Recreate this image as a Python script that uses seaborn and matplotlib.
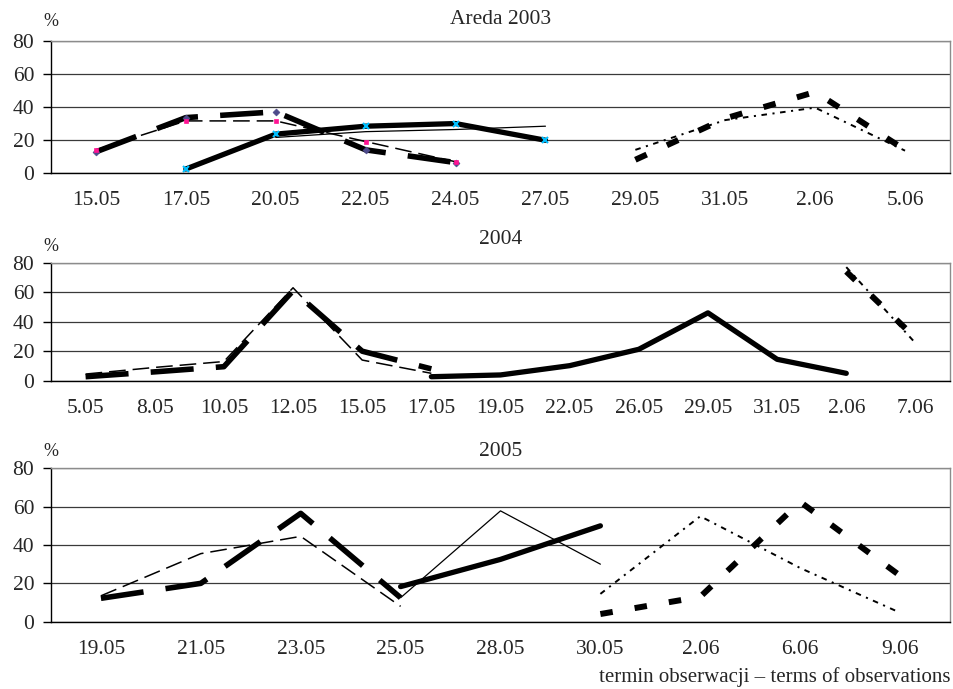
import numpy as np
import pandas as pd
import seaborn as sns
import matplotlib.pyplot as plt

nan = np.nan

# 2003 (Areda)
daty_2003 = ["15.05", "17.05", "20.05", "22.05", "24.05", "27.05", "29.05", "31.05", "2.06", "5.06"]
a_2003 = [12.8, 33.5, 37, 14, 6.3, nan, nan, nan, nan, nan]
b_2003 = [14, 31.5, 31.5, 19, 6.8, nan, nan, nan, nan, nan]
c_2003 = [nan, 2.4, 23.5, 28.3, 29.9, 19.8, nan, nan, nan, nan]
d_2003 = [nan, nan, 21.5, 25, 26.3, 28.3, nan, nan, nan, nan]
e_2003 = [nan, nan, nan, nan, nan, nan, 8, 33, 49, 14]
f_2003 = [nan, nan, nan, nan, nan, nan, 14, 32, 39.5, 13.5]

# 2004
daty_2004 = ["5.05", "8.05", "10.05", "12.05", "15.05", "17.05", "19.05", "22.05",
             "26.05", "29.05", "31.05", "2.06", "7.06"]
a_2004 = [2.7, 6, 9.5, 61, 20, 8, nan, nan, nan, nan, nan, nan, nan]
b_2004 = [4.5, 9, 13, 63, 14, 5, nan, nan, nan, nan, nan, nan, nan]
c_2004 = [nan, nan, nan, nan, nan, 2.7, 3.9, 10.2, 21.3, 46, 14.5, 5, nan]
d_2004 = [nan] * 13
e_2004 = [nan, nan, nan, nan, nan, nan, nan, nan, nan, nan, nan, 74, 29]
f_2004 = [nan, nan, nan, nan, nan, nan, nan, nan, nan, nan, nan, 77, 25.5]

# 2005
daty_2005 = ["19.05", "21.05", "23.05", "25.05", "28.05", "30.05", "2.06", "6.06", "9.06"]
a_2005 = [12.2, 20, 56.5, 12.5, nan, nan, nan, nan, nan]
b_2005 = [13.5, 35.5, 44.5, 8, nan, nan, nan, nan, nan]
c_2005 = [nan, nan, nan, 18.3, 32.5, 50, nan, nan, nan]
d_2005 = [nan, nan, nan, 12.5, 57.8, 30, nan, nan, nan]
e_2005 = [nan, nan, nan, nan, nan, 4, 13, 62.5, 24]
f_2005 = [nan, nan, nan, nan, nan, 14.5, 55, 28, 4.7]

tytuly = ["Areda 2003", "2004", "2005"]

sns.set_theme(style="white")
plt.rcParams["font.family"] = ["Liberation Serif", "DejaVu Serif"]
plt.rcParams["lines.scale_dashes"] = False
plt.rcParams["lines.solid_joinstyle"] = "round"

# style linii (jak w Excelu)
style = {
    "A": dict(linewidth=4.0, linestyle=(0, (31, 16))),
    "B": dict(linewidth=1.1, linestyle=(0, (12, 5))),
    "C": dict(linewidth=3.8, linestyle="-"),
    "D": dict(linewidth=0.9, linestyle="-"),
    "E": dict(linewidth=4.3, linestyle=(0, (9, 16))),
    "F": dict(linewidth=1.4, linestyle=(0, (4, 4, 1.5, 4))),
}
markery = {
    "A": dict(marker="D", markersize=3.5, markerfacecolor="#4d4a8a", markeredgecolor="#4d4a8a", markeredgewidth=0.5),
    "B": dict(marker="s", markersize=3.5, markerfacecolor="#ff1493", markeredgecolor="#ff1493", markeredgewidth=0.5),
    "C": dict(marker="x", markersize=4, markerfacecolor="#00bfff", markeredgecolor="#00bfff", markeredgewidth=1.5),
}

panele = [
    (daty_2003, {"A": a_2003, "B": b_2003, "C": c_2003, "D": d_2003, "E": e_2003, "F": f_2003}, True),
    (daty_2004, {"A": a_2004, "B": b_2004, "C": c_2004, "D": d_2004, "E": e_2004, "F": f_2004}, False),
    (daty_2005, {"A": a_2005, "B": b_2005, "C": c_2005, "D": d_2005, "E": e_2005, "F": f_2005}, False),
]

fig = plt.figure(figsize=(9.54, 6.89), dpi=100)
pozycje = [
    [51 / 954, 1 - 173 / 689, 899 / 954, 132.3 / 689],
    [51 / 954, 1 - 380.7 / 689, 899 / 954, 118 / 689],
    [51 / 954, 1 - 621.7 / 689, 899 / 954, 153.4 / 689],
]
tytul_off = [15, 17, 12]
proc_off = [14, 12, 12]

for i, (daty, serie, z_markerami) in enumerate(panele):
    ax = fig.add_axes(pozycje[i])
    n = len(daty)
    for nazwa, wart in serie.items():
        df = pd.DataFrame({"poz": np.arange(n), "proc": wart}).dropna()
        if df.empty:
            continue
        kw = dict(style[nazwa])
        if z_markerami and nazwa in markery:
            kw.update(markery[nazwa])
        sns.lineplot(data=df, x="poz", y="proc", ax=ax, color="black",
                     errorbar=None, sort=True, **kw)
    ax.set_xlim(-0.5, n - 0.5)
    ax.set_ylim(0, 80)
    ax.set_yticks([0, 20, 40, 60, 80])
    ax.set_xticks(np.arange(n))
    ax.set_xticklabels(daty)
    ax.set_xticks(np.arange(-0.5, n), minor=True)
    ax.tick_params(axis="x", which="major", length=0, pad=13, labelsize=15.5)
    ax.tick_params(axis="x", which="minor", length=6, width=1, direction="out", color="black")
    ax.tick_params(axis="y", which="major", length=6, width=1, direction="out", pad=6,
                   labelsize=15.5, color="black", left=True)
    ax.set_xlabel("")
    ax.set_ylabel("")
    ax.yaxis.grid(True, color="#3a3a3a", linewidth=0.9)
    ax.set_axisbelow(True)
    for s in ["left", "bottom"]:
        ax.spines[s].set_color("black")
        ax.spines[s].set_linewidth(1)
    for s in ["top", "right"]:
        ax.spines[s].set_color("#8c8c8c")
        ax.spines[s].set_linewidth(1)
    ax.annotate(tytuly[i], xy=(0.5, 1), xycoords="axes fraction", xytext=(0, tytul_off[i]),
                textcoords="offset points", ha="center", va="center", fontsize=15.5)
    ax.annotate("%", xy=(0, 1), xycoords="axes fraction", xytext=(0, proc_off[i]),
                textcoords="offset points", ha="center", va="center", fontsize=13)

fig.text(0.996, 1 - 677 / 689, "termin obserwacji \u2013 terms of observations",
         ha="right", va="center", fontsize=15)

fig.savefig("out.png", dpi=100)
